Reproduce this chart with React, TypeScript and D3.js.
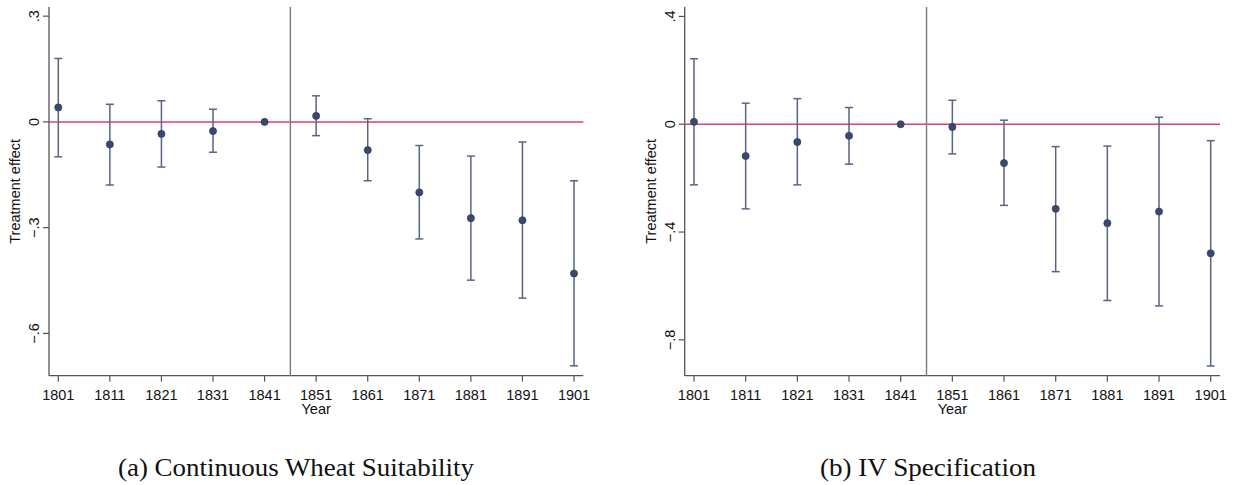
import React from 'react';
import * as d3 from 'd3';

const years = [1801, 1811, 1821, 1831, 1841, 1851, 1861, 1871, 1881, 1891, 1901];

// panel (a): continuous wheat suitability
const estA = [0.041, -0.064, -0.034, -0.026, 0, 0.017, -0.08, -0.2, -0.273, -0.279, -0.43];
const hiA = [0.18, 0.05, 0.06, 0.036, 0, 0.074, 0.009, -0.067, -0.097, -0.057, -0.167];
const loA = [-0.099, -0.179, -0.128, -0.086, 0, -0.039, -0.167, -0.332, -0.449, -0.5, -0.692];
const ticksA = [0.3, 0, -0.3, -0.6];

// panel (b): IV specification
const estB = [0.009, -0.118, -0.066, -0.043, 0, -0.01, -0.144, -0.314, -0.367, -0.324, -0.479];
const hiB = [0.243, 0.078, 0.095, 0.062, 0, 0.089, 0.015, -0.083, -0.081, 0.026, -0.061];
const loB = [-0.225, -0.314, -0.225, -0.148, 0, -0.11, -0.301, -0.547, -0.654, -0.674, -0.897];
const ticksB = [0.4, 0, -0.4, -0.8];

const fmt = (v: number) => (v === 0 ? '0' : d3.format('.1f')(v).replace('0.', '.'));

const FONT = '"Liberation Sans", Arial, sans-serif';

type PanelProps = {
  left: number;
  right: number;
  yDomain: [number, number];
  est: number[];
  hi: number[];
  lo: number[];
  ticks: number[];
  caption: string;
  captionX: number;
  captionW: number;
};

const Panel = ({ left, right, yDomain, est, hi, lo, ticks, caption, captionX, captionW }: PanelProps) => {
  const top = 7;
  const bottom = 375.7;
  const x = d3.scaleLinear().domain([1799.2, 1902.8]).range([left, right]);
  const y = d3.scaleLinear().domain(yDomain).range([bottom, top]);
  const navy = '#3a4870';
  const ci = '#5a6583';

  return (
    <g>
      {/* axes */}
      <line x1={left} x2={left} y1={top} y2={bottom} stroke="#555" strokeWidth={1.3} />
      <line x1={left} x2={right} y1={bottom} y2={bottom} stroke="#555" strokeWidth={1.3} />
      {ticks.map((t) => (
        <g key={t}>
          <line x1={left - 6} x2={left} y1={y(t)} y2={y(t)} stroke="#555" strokeWidth={1.2} />
          <text
            transform={`translate(${left - 10},${y(t)}) rotate(-90)`}
            textAnchor="middle"
            fontFamily={FONT}
            fontSize={14.5}
            fill="#111"
          >
            {fmt(t)}
          </text>
        </g>
      ))}
      {years.map((yr) => (
        <g key={yr}>
          <line x1={x(yr)} x2={x(yr)} y1={bottom} y2={bottom + 6} stroke="#555" strokeWidth={1.2} />
          <text x={x(yr)} y={bottom + 24} textAnchor="middle" fontFamily={FONT} fontSize={14.5} fill="#111">
            {yr}
          </text>
        </g>
      ))}
      <text
        x={(left + right) / 2}
        y={bottom + 38}
        textAnchor="middle"
        fontFamily={FONT}
        fontSize={14.5}
        fill="#111"
      >
        Year
      </text>
      <text
        transform={`translate(${left - 29},${(top + bottom) / 2}) rotate(-90)`}
        textAnchor="middle"
        fontFamily={FONT}
        fontSize={14.5}
        fill="#111"
      >
        Treatment effect
      </text>

      {/* reference lines */}
      <line x1={left} x2={right} y1={y(0)} y2={y(0)} stroke="#d8426c" strokeWidth={1.5} />
      <line x1={x(1846)} x2={x(1846)} y1={top} y2={bottom} stroke="#7a7a7a" strokeWidth={1.4} />

      {/* confidence intervals */}
      {years.map((yr, i) =>
        hi[i] === lo[i] ? null : (
          <g key={`ci-${yr}`} stroke={ci} strokeWidth={1.5}>
            <line x1={x(yr)} x2={x(yr)} y1={y(hi[i])} y2={y(lo[i])} />
            <line x1={x(yr) - 4} x2={x(yr) + 4} y1={y(hi[i])} y2={y(hi[i])} />
            <line x1={x(yr) - 4} x2={x(yr) + 4} y1={y(lo[i])} y2={y(lo[i])} />
          </g>
        )
      )}
      {years.map((yr, i) => (
        <circle key={`pt-${yr}`} cx={x(yr)} cy={y(est[i])} r={3.6} fill={navy} stroke="#2c375a" strokeWidth={0.6} />
      ))}

      <text
        x={captionX}
        y={476}
        textAnchor="middle"
        fontFamily='"Liberation Serif", "DejaVu Serif", serif'
        fontSize={26}
        textLength={captionW}
        lengthAdjust="spacingAndGlyphs"
        fill="#111"
      >
        {caption}
      </text>
    </g>
  );
};

export default function App() {
  return (
    <div style={{ position: 'absolute', left: 0, top: 0 }}>
      <svg width={1234} height={485} viewBox="0 0 1234 485" style={{ display: 'block', background: '#fff' }}>
        <Panel
          left={49}
          right={583.3}
          yDomain={[-0.72, 0.326]}
          est={estA}
          hi={hiA}
          lo={loA}
          ticks={ticksA}
          caption="(a)  Continuous Wheat Suitability"
          captionX={296}
          captionW={356}
        />
        <Panel
          left={684.7}
          right={1220}
          yDomain={[-0.933, 0.435]}
          est={estB}
          hi={hiB}
          lo={loB}
          ticks={ticksB}
          caption="(b)  IV Specification"
          captionX={928}
          captionW={216}
        />
      </svg>
    </div>
  );
}
